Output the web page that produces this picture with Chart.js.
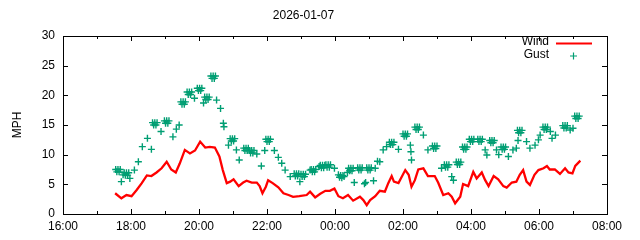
<!DOCTYPE html>
<html>
<head>
<meta charset="utf-8">
<script src="https://cdn.jsdelivr.net/npm/chart.js@4/dist/chart.umd.min.js"></script>
<style>
  html, body { margin: 0; padding: 0; background: #fff; }
  #wind-chart { display: block; }
</style>
</head>
<body>
<canvas id="wind-chart" width="640" height="240"></canvas>
<script>
// wind / gust readings (clock time, mph)
const windTimes = [
  '17:32', '17:43', '17:52', '18:01', '18:10', '18:19', '18:28', '18:36', '18:45', '18:54',
  '19:03', '19:11', '19:19', '19:26', '19:35', '19:44', '19:53', '20:02', '20:11', '20:19',
  '20:28', '20:36', '20:42', '20:49', '20:55', '21:01', '21:10', '21:18', '21:24', '21:33',
  '21:42', '21:47', '21:52', '21:58', '22:02', '22:10', '22:20', '22:29', '22:38', '22:46',
  '22:57', '23:10', '23:16', '23:25', '23:34', '23:43', '23:51', '23:59', '00:06', '00:14',
  '00:23', '00:32', '00:44', '00:50', '00:56', '01:02', '01:11', '01:19', '01:28', '01:34',
  '01:40', '01:44', '01:52', '02:04', '02:10', '02:15', '02:21', '02:27', '02:36', '02:44',
  '02:56', '03:02', '03:11', '03:20', '03:26', '03:32', '03:41', '03:46', '03:55', '04:04',
  '04:10', '04:19', '04:25', '04:31', '04:40', '04:48', '04:57', '05:03', '05:12', '05:20',
  '05:26', '05:32', '05:38', '05:44', '05:52', '05:59', '06:08', '06:14', '06:19', '06:28',
  '06:37', '06:46', '06:52', '06:59', '07:04', '07:13',
];
const windSpeeds = [
  3.5, 2.65, 3.2, 3.0, 4.05, 5.2, 6.5, 6.4, 7.0, 7.7,
  8.8, 7.5, 7.0, 8.5, 10.8, 10.2, 10.7, 12.2, 11.2, 11.3,
  11.2, 9.7, 7.4, 5.2, 5.45, 5.85, 4.7, 5.3, 5.6, 5.3,
  5.3, 4.7, 3.5, 4.6, 5.7, 5.2, 4.5, 3.5, 3.2, 2.9,
  3.0, 3.2, 3.75, 2.8, 3.4, 3.9, 3.9, 4.3, 3.0, 2.65,
  3.2, 2.25, 2.9, 2.35, 1.5, 2.35, 3.0, 3.9, 3.75, 5.2,
  6.4, 5.45, 5.2, 7.4, 6.6, 4.6, 5.7, 7.5, 7.7, 6.4,
  6.4, 5.3, 3.2, 3.5, 2.9, 1.8, 2.9, 5.05, 4.7, 7.1,
  6.0, 7.0, 5.7, 4.7, 6.4, 5.85, 4.7, 4.45, 5.3, 5.45,
  6.6, 7.4, 5.45, 4.9, 6.6, 7.4, 7.7, 8.1, 7.5, 7.5,
  6.75, 7.7, 7.0, 6.85, 8.1, 9.0,
];

const gustTimes = [
  '17:33', '17:35', '17:37', '17:39', '17:41', '17:43', '17:46',
  '17:48', '17:50', '17:52', '17:54', '17:56', '17:58', '18:06', '18:13', '18:20', '18:29', '18:36',
  '18:38', '18:40', '18:42', '18:44', '18:46', '18:53',
  '18:59', '19:01', '19:03', '19:05', '19:07', '19:14', '19:20', '19:25',
  '19:28', '19:30', '19:32', '19:34', '19:36',
  '19:39', '19:41', '19:43', '19:45', '19:47', '19:52',
  '19:57', '19:59', '20:01', '20:03', '20:05', '20:08',
  '20:10', '20:12', '20:14', '20:16', '20:18',
  '20:21', '20:23', '20:25', '20:27', '20:29', '20:31', '20:38', '20:43', '20:44', '20:52',
  '20:55', '20:57', '20:59', '21:01', '21:03', '21:06', '21:11',
  '21:19', '21:21', '21:23', '21:25', '21:27',
  '21:29', '21:31', '21:33', '21:35', '21:37', '21:42', '21:50', '21:56',
  '21:58', '22:00', '22:02', '22:04', '22:06', '22:13', '22:20', '22:26', '22:32', '22:41',
  '22:48', '22:50', '22:52', '22:54', '22:56', '22:58',
  '23:00', '23:02', '23:04', '23:06', '23:08', '23:16',
  '23:18', '23:20', '23:22', '23:24', '23:26', '23:32',
  '23:34', '23:36', '23:38', '23:40', '23:42',
  '23:44', '23:46', '23:48', '23:50', '23:52', '23:59',
  '00:06', '00:08', '00:10', '00:12', '00:14', '00:16', '00:22',
  '00:24', '00:26', '00:28', '00:30', '00:32', '00:34',
  '00:40', '00:42', '00:44', '00:46', '00:48', '00:52', '00:54',
  '00:56', '00:58', '01:00', '01:02', '01:04', '01:08', '01:11', '01:15', '01:19', '01:25', '01:31',
  '01:36', '01:38', '01:40', '01:42', '01:44', '01:52',
  '02:00', '02:02', '02:04', '02:06', '02:08', '02:13', '02:14', '02:15',
  '02:21', '02:23', '02:25', '02:27', '02:29', '02:36', '02:44',
  '02:52', '02:54', '02:56', '02:58', '03:00', '03:08',
  '03:13', '03:15', '03:17', '03:19', '03:21', '03:26', '03:29',
  '03:34', '03:36', '03:38', '03:40', '03:42',
  '03:45', '03:47', '03:49', '03:51', '03:53',
  '03:57', '03:59', '04:01', '04:03', '04:05',
  '04:12', '04:14', '04:16', '04:18', '04:20', '04:25', '04:28',
  '04:33', '04:35', '04:37', '04:39', '04:41', '04:45', '04:49',
  '04:53', '04:55', '04:57', '04:59', '05:01', '05:06', '05:14', '05:20', '05:23',
  '05:22', '05:24', '05:26', '05:28', '05:30', '05:38', '05:44', '05:53', '05:59', '06:02',
  '06:07', '06:09', '06:11', '06:13', '06:15', '06:20', '06:23', '06:29',
  '06:42', '06:44', '06:46', '06:48', '06:50', '06:55', '07:00',
  '07:03', '07:05', '07:07', '07:09', '07:11',
];
const gustSpeeds = [
  7.5, 7.1, 7.5, 7.1, 7.5, 5.45, 6.6,
  6.95, 6.55, 6.95, 6.55, 6.95, 6.0, 7.4, 8.8, 11.35, 12.75, 10.9,
  15.4, 15.0, 15.4, 15.0, 15.4, 13.9,
  15.7, 15.3, 15.7, 15.3, 15.7, 13.0, 14.3, 15.0,
  18.9, 18.5, 18.9, 18.5, 18.9,
  20.55, 20.15, 20.55, 20.15, 20.55, 19.5,
  21.2, 20.8, 21.2, 20.8, 21.2, 18.7,
  19.7, 19.3, 19.7, 19.3, 19.7,
  23.25, 22.85, 23.25, 22.85, 23.25, 19.2, 17.8, 15.3, 14.7, 11.6,
  12.7, 12.3, 12.7, 12.3, 12.7, 10.8, 9.1,
  11.1, 10.7, 11.1, 10.7, 11.1,
  10.7, 10.3, 10.7, 10.3, 10.7, 10.1, 8.1, 10.7,
  12.6, 12.2, 12.6, 12.2, 12.6, 10.7, 9.55, 8.55, 7.4, 6.3,
  6.8, 6.4, 6.8, 6.4, 6.8, 5.45,
  6.7, 6.3, 6.7, 6.3, 6.7, 7.4,
  7.5, 7.1, 7.5, 7.1, 7.5, 8.0,
  8.2, 7.8, 8.2, 7.8, 8.2,
  8.3, 7.9, 8.3, 7.9, 8.3, 7.7,
  6.6, 6.2, 6.5, 6.1, 6.5, 6.3, 7.0,
  7.7, 7.3, 7.7, 7.3, 7.7, 5.3,
  7.8, 7.4, 7.8, 7.4, 7.8, 5.1, 5.3,
  7.8, 7.4, 7.8, 7.4, 7.8, 5.6, 7.7, 8.9, 8.8, 10.8, 11.35,
  12.1, 11.7, 12.1, 11.7, 12.1, 10.9,
  13.5, 13.1, 13.5, 13.1, 13.5, 11.6, 10.5, 9.1,
  14.65, 14.25, 14.65, 14.25, 14.65, 13.3, 10.8,
  11.45, 11.05, 11.45, 11.05, 11.45, 7.7,
  8.3, 7.9, 8.3, 7.9, 8.3, 6.3, 5.7,
  8.75, 8.35, 8.75, 8.35, 8.75,
  11.3, 10.9, 11.3, 10.9, 11.3,
  12.6, 12.2, 12.6, 12.2, 12.6,
  12.6, 12.2, 12.6, 12.2, 12.6, 10.8, 9.95,
  12.4, 12.0, 12.4, 12.0, 12.4, 10.8, 10.0,
  11.3, 10.9, 11.3, 10.9, 11.3, 9.7, 10.8, 11.1, 12.4,
  14.1, 13.7, 14.1, 13.7, 14.1, 12.2, 11.1, 11.6, 12.5, 13.3,
  14.65, 14.25, 14.65, 14.25, 14.65, 13.9, 12.75, 13.3,
  14.9, 14.5, 14.9, 14.5, 14.9, 14.15, 14.45,
  16.5, 16.1, 16.5, 16.1, 16.5,
];

const xTickLabels = ['16:00', '18:00', '20:00', '22:00', '00:00', '02:00', '04:00', '06:00', '08:00'];
const chartTitle = '2026-01-07';

const FONT = { family: '"Liberation Sans", Arial, sans-serif', size: 12 };
const WIND_COLOR = '#ff0000';
const GUST_COLOR = '#009e73';

// hours after 16:00 (axis runs 16:00 -> 08:00 next day)
function toHours(t) {
  const [hh, mm] = t.split(':').map(Number);
  let h = hh + mm / 60 - 16;
  if (h < 0) h += 24;
  return h;
}

const windPoints = windTimes.map((t, i) => ({ x: toHours(t), y: windSpeeds[i] }));
const gustPoints = gustTimes.map((t, i) => ({ x: toHours(t), y: gustSpeeds[i] }));

// gnuplot-ish border with inward tics on all four sides
const framePlugin = {
  id: 'frame',
  afterDatasetsDraw(chart) {
    const { ctx, chartArea: a, scales } = chart;
    ctx.save();
    ctx.strokeStyle = '#000';
    ctx.lineWidth = 1;
    ctx.beginPath();
    for (let h = 0; h <= 16; h++) {
      const x = Math.round(scales.x.getPixelForValue(h)) + 0.5;
      const len = h % 2 === 0 ? 5 : 3;
      ctx.moveTo(x, a.bottom); ctx.lineTo(x, a.bottom - len);
      ctx.moveTo(x, a.top); ctx.lineTo(x, a.top + len);
    }
    for (let v = 0; v <= 30; v += 5) {
      const y = Math.round(scales.y.getPixelForValue(v)) + 0.5;
      ctx.moveTo(a.left, y); ctx.lineTo(a.left + 5, y);
      ctx.moveTo(a.right, y); ctx.lineTo(a.right - 5, y);
    }
    ctx.stroke();
    ctx.strokeRect(Math.round(a.left) + 0.5, Math.round(a.top) + 0.5,
                   Math.round(a.right - a.left), Math.round(a.bottom - a.top));
    ctx.restore();
  },
};

// key in the top right corner, text left of the sample
const keyPlugin = {
  id: 'key',
  afterDraw(chart) {
    const { ctx } = chart;
    ctx.save();
    ctx.font = `${FONT.size}px ${FONT.family}`;
    ctx.fillStyle = '#000';
    ctx.textAlign = 'right';
    ctx.textBaseline = 'middle';
    ctx.fillText('Wind', 549, 42);
    ctx.fillText('Gust', 549, 55);
    ctx.strokeStyle = WIND_COLOR;
    ctx.lineWidth = 2;
    ctx.beginPath();
    ctx.moveTo(556, 43.5); ctx.lineTo(592, 43.5);
    ctx.stroke();
    ctx.strokeStyle = GUST_COLOR;
    ctx.lineWidth = 1.2;
    ctx.beginPath();
    ctx.moveTo(570, 56); ctx.lineTo(577, 56);
    ctx.moveTo(573.5, 52.5); ctx.lineTo(573.5, 59.5);
    ctx.stroke();
    ctx.restore();
  },
};

new Chart(document.getElementById('wind-chart'), {
  type: 'scatter',
  data: {
    datasets: [
      {
        label: 'Wind',
        data: windPoints,
        showLine: true,
        borderColor: WIND_COLOR,
        backgroundColor: WIND_COLOR,
        borderWidth: 2.3,
        pointRadius: 0,
        tension: 0,
      },
      {
        label: 'Gust',
        data: gustPoints,
        showLine: false,
        pointStyle: 'cross',
        pointRadius: 3.5,
        borderColor: GUST_COLOR,
        backgroundColor: GUST_COLOR,
        borderWidth: 1.4,
      },
    ],
  },
  options: {
    responsive: false,
    animation: false,
    events: [],
    layout: { padding: { left: 0, right: 33, top: 0, bottom: 0 } },
    plugins: {
      legend: { display: false },
      tooltip: { enabled: false },
      title: {
        display: true,
        text: chartTitle,
        color: '#000',
        font: { ...FONT, weight: 'normal' },
        padding: { top: 8, bottom: 13.6 },
      },
    },
    scales: {
      x: {
        type: 'linear',
        min: 0,
        max: 16,
        grid: { display: false, drawTicks: false },
        border: { display: false },
        ticks: {
          stepSize: 2,
          autoSkip: false,
          maxRotation: 0,
          padding: 5,
          color: '#000',
          font: FONT,
          callback: (v) => xTickLabels[v / 2],
        },
        afterFit: (s) => { s.height = 26; },
      },
      y: {
        min: 0,
        max: 30,
        grid: { display: false, drawTicks: false },
        border: { display: false },
        ticks: { stepSize: 5, padding: 8, color: '#000', font: FONT },
        title: {
          display: true,
          text: 'MPH',
          color: '#000',
          font: FONT,
          padding: { top: 10, bottom: 0 },
        },
        afterFit: (s) => { s.width = 63; },
      },
    },
  },
  plugins: [framePlugin, keyPlugin],
});
</script>
</body>
</html>
